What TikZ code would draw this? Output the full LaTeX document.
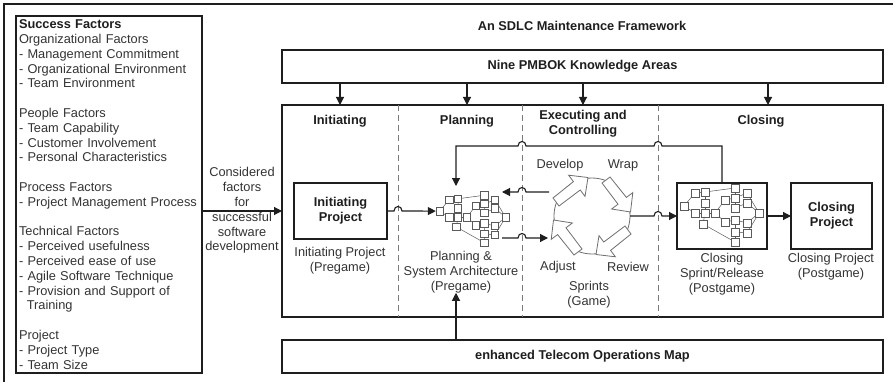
\documentclass[tikz,border=0pt]{standalone}
\usepackage{fontspec}
\setmainfont{Liberation Sans}
\usetikzlibrary{arrows.meta,calc}

\definecolor{ink}{HTML}{1E1E1E}
\definecolor{txt}{HTML}{333333}
\definecolor{dashc}{HTML}{7A7A7A}
\definecolor{netc}{HTML}{5A5A5A}
\definecolor{cycc}{HTML}{6E6E6E}

\tikzset{
  % small process network drawn as squares joined by thin lines
  sq/.style={draw=netc, fill=white, minimum size=8pt, inner sep=0pt, line width=0.6pt},
  netln/.style={draw=netc, line width=0.5pt},
  netpic/.pic={
    \foreach \n/\px/\py in {L/-38/-9, a/-27/-22, b/-17/-23, c/-17/-12, d/-27/-2,
        e/-17/-2, f/-7/-2, g/-19/9, h/13/-27, i/3/-15, j/13/-17, k/25/-22,
        l/13/-7, m/25/-12, n/3/7, o/13/5, p/25/8, q/13/17, r/25/18, s/13/27, R/37/-2}
      \node[sq] (-\n) at (\px,\py) {};
    \foreach \u/\v in {L/a, L/d, a/b, b/c, c/e, d/e, e/f, e/g, b/h, f/i, f/n, i/j,
        h/j, j/k, j/l, l/m, n/o, o/p, o/q, q/r, q/s, g/s, k/R, m/R, p/R, r/R}
      \draw[netln] (-\u) -- (-\v);
  },
  % line jumps over a crossing point, for paths running right or left
  hopR/.style={insert path={-- ($(#1)+(-4,0)$) .. controls +(0,-6) and +(0,-6) .. ($(#1)+(4,0)$)}},
  hopL/.style={insert path={-- ($(#1)+(4,0)$) .. controls +(0,-6) and +(0,-6) .. ($(#1)+(-4,0)$)}},
}

\begin{document}
\begin{tikzpicture}[x=1pt, y=-1pt,
  every node/.style={font=\fontsize{12.8}{14.8}\selectfont, text=txt, inner sep=0pt, outer sep=0pt},
  hd/.style={font=\fontsize{12.8}{14.8}\selectfont\bfseries, text=ink, align=center},
  lbl/.style={align=center},
  box/.style={draw=ink, line width=1.1pt, anchor=north west},
  arr/.style={draw=ink, line width=1.1pt, -{Triangle[length=8pt,width=8pt]}},
  dsh/.style={draw=dashc, line width=1pt, dash pattern=on 6pt off 4pt},
  cyca/.style={draw=cycc, line width=0.8pt, fill=white, line join=miter},
]
\useasboundingbox (0,0) rectangle (893,382);

% frame
\draw[ink, line width=1.2pt] (4,382) -- (4,4) -- (893,4);

% success factors list
\node[box, minimum width=186pt, minimum height=357pt, text width=180pt,
      inner xsep=3pt, align=left] (succ) at (16,16) {%
\textbf{\color{ink}Success Factors}\\
Organizational Factors\\
- Management Commitment\\
- Organizational Environment\\
- Team Environment\\[14.8pt]
People Factors\\
- Team Capability\\
- Customer Involvement\\
- Personal Characteristics\\[14.8pt]
Process Factors\\
- Project Management Process\\[14.8pt]
Technical Factors\\
- Perceived usefulness\\
- Perceived ease of use\\
- Agile Software Technique\\
- Provision and Support of\\
\hspace*{7.8pt}Training\\[14.8pt]
Project\\
- Project Type\\
- Team Size};

\node[lbl] (consid) at (242,210.5) {Considered\\factors\\for\\successful\\software\\development};

% framework
\node[hd] (title) at (582,26) {An SDLC Maintenance Framework};
\node[box, hd, minimum width=601pt, minimum height=33pt] (pmbok) at (282,50) {Nine PMBOK Knowledge Areas};
\node[box, minimum width=601pt, minimum height=212pt] (main) at (282,105) {};
\node[box, hd, minimum width=601pt, minimum height=33pt] (etom) at (282,340) {enhanced Telecom Operations Map};

% phase separators
\coordinate (d1t) at (398,105); \coordinate (d1b) at (398,317);
\coordinate (d2t) at (522,105); \coordinate (d2b) at (522,317);
\coordinate (d3t) at (658,105); \coordinate (d3b) at (658,317);
\draw[dsh] (d1t) -- (d1b);
\draw[dsh] (d2t) -- (d2b);
\draw[dsh] (d3t) -- (d3b);

% phase headers
\node[hd] (hInit) at (340,121) {Initiating};
\node[hd] (hPlan) at (467,121) {Planning};
\node[hd] (hExec) at (583,123.5) {Executing and\\Controlling};
\node[hd] (hClose) at (761,121) {Closing};
\coordinate (kExec) at (583,0);
\coordinate (kClose) at (768,0);

\foreach \c in {hInit, hPlan, kExec, kClose}
  \draw[arr] (pmbok.south -| \c) -- (main.north -| \c);

% initiating
\node[box, hd, minimum width=93pt, minimum height=56pt] (init) at (294,183) {Initiating\\Project};
\node[lbl] (initLbl) at (340,260.5) {Initiating Project\\(Pregame)};

% planning
\pic[scale=0.88, sq/.append style={minimum size=7.5pt}] (pnet) at (473,219) {netpic};
\node[lbl] (planLbl) at (461,272) {Planning \&\\System Architecture\\(Pregame)};

% sprints cycle
\node[circle, draw=cycc, line width=0.8pt, minimum size=76pt] (cyc) at (592,216) {};
\foreach \r in {0,-90,-180,-270}
  \draw[cyca, shift={(cyc.center)}, rotate=\r]
    (-39,-18) -- (-18.6,-34.4) -- (-23.4,-40.8) -- (-4,-38.5) -- (-7.0,-19.6) -- (-11.8,-26.0) -- (-33,-10) -- cycle;
\node (dev) at (560,165) {Develop};
\node (wrap) at (623,165) {Wrap};
\node (adj) at (558,267) {Adjust};
\node (rev) at (628,267) {Review};
\node[lbl] (sprLbl) at (589,294.5) {Sprints\\(Game)};

% closing
\node[box, minimum width=90pt, minimum height=66pt] (sbox) at (677,183) {};
\pic (snet) at (722,215) {netpic};
\node[lbl] (sboxLbl) at (722,274) {Closing\\Sprint/Release\\(Postgame)};
\node[box, hd, minimum width=81pt, minimum height=66pt] (cproj) at (791,183) {Closing\\Project};
\node[lbl] (cprojLbl) at (831,266.5) {Closing Project\\(Postgame)};

% connector end points and crossings
\coordinate (pTop) at (456,186);
\coordinate (fbk) at (722,146);
\coordinate (pIn) at (502,192);
\coordinate (pOut) at (502,238);
\coordinate (cOut) at (549,192);
\coordinate (cIn) at (548,238);
\coordinate (xA) at (d1t |- init.east);
\coordinate (xB) at (d2t |- fbk);
\coordinate (xC) at (d3t |- fbk);
\coordinate (xD) at (d2t |- pIn);
\coordinate (xE) at (d2t |- pOut);
\coordinate (xF) at (d3t |- cyc.east);

% connectors
\draw[arr] (succ.east |- init.east) -- (main.west |- init.east);
\draw[arr] (init.east) [hopR=xA] -- (pnet-L.west);
\draw[arr] (sbox.north) -- (sbox.north |- fbk) [hopL=xC] [hopL=xB] -- (pTop |- fbk) -- (pTop);
\draw[arr] (cOut) [hopL=xD] -- (pIn);
\draw[arr] (pOut) [hopR=xE] -- (cIn);
\draw[arr] (cyc.east) [hopR=xF] -- (sbox.west |- cyc.east);
\draw[arr] (sbox.east |- cyc.east) -- (cproj.west |- cyc.east);
\draw[arr] (etom.north -| pTop) -- (planLbl.south -| pTop);
\end{tikzpicture}
\end{document}
